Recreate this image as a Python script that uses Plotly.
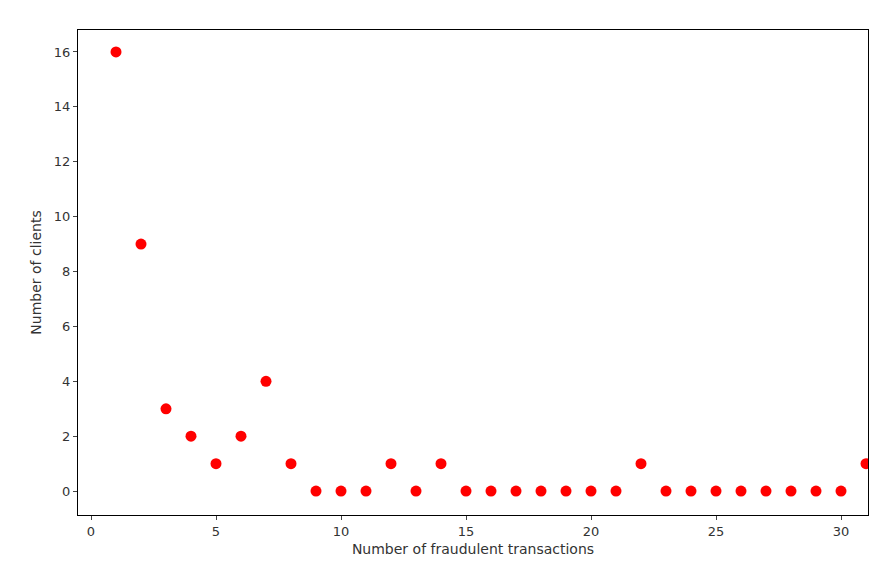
import plotly.graph_objects as go

# fraudulent transactions per client vs number of clients
n_fraud = list(range(1, 32))
n_clients = [16, 9, 3, 2, 1, 2, 4, 1, 0, 0, 0, 1, 0, 1, 0, 0,
             0, 0, 0, 0, 0, 1, 0, 0, 0, 0, 0, 0, 0, 0, 1]
x_ticks = [0, 5, 10, 15, 20, 25, 30]
y_ticks = [0, 2, 4, 6, 8, 10, 12, 14, 16]

fig = go.Figure(go.Scatter(
    x=n_fraud, y=n_clients, mode="markers",
    marker=dict(color="#ff0000", size=11),
))

axis_style = dict(
    showgrid=False, zeroline=False, showline=True, mirror=True,
    linecolor="black", linewidth=1, ticks="outside", ticklen=4,
    tickfont=dict(size=13, color="#333"),
)
fig.update_xaxes(range=[-0.52, 31.08], tickvals=x_ticks,
                 title=dict(text="Number of fraudulent transactions",
                            font=dict(size=14, color="#333"), standoff=6),
                 **axis_style)
fig.update_yaxes(range=[-0.87, 16.8], tickvals=y_ticks,
                 title=dict(text="Number of clients",
                            font=dict(size=14, color="#333"), standoff=8),
                 **axis_style)
# page adds ~8px body margin, so the figure is a bit smaller than the window
fig.update_layout(
    width=887, height=578,
    margin=dict(l=70, r=27, t=22, b=71),
    plot_bgcolor="white", paper_bgcolor="white",
    font=dict(family="DejaVu Sans"),
    showlegend=False,
)
fig.write_html("out.html")
